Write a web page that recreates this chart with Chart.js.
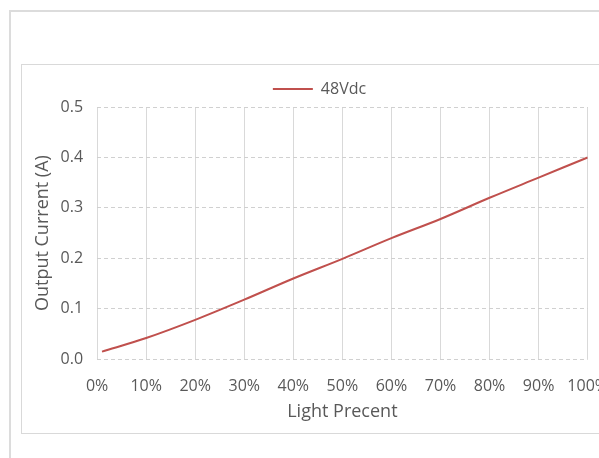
<!DOCTYPE html>
<html>
<head>
<meta charset="utf-8">
<script src="https://cdn.jsdelivr.net/npm/chart.js@4"></script>
<style>
  html, body { margin: 0; padding: 0; background: #fff; overflow: hidden; }
  body { width: 599px; height: 458px; position: relative; }
  #outer { position: absolute; left: 9px; top: 10px; width: 700px; height: 600px;
           border-left: 2px solid #dcdcdc; border-top: 2px solid #dcdcdc; }
  #frame { position: absolute; left: 21px; top: 64px; width: 700px; height: 368px;
           border: 1px solid #d9d9d9; }
  #wrap { position: absolute; left: 22px; top: 65px; width: 590px; height: 367px; }
</style>
</head>
<body>
<div id="outer"></div>
<div id="frame"></div>
<div id="wrap"><canvas id="myChart"></canvas></div>
<script>
// valores
const porcentajes = [1, 10, 20, 30, 40, 50, 60, 70, 80, 90, 100]
const corriente = [0.015, 0.042, 0.078, 0.118, 0.160, 0.199, 0.240, 0.278, 0.320, 0.360, 0.400]
const serie = "48Vdc"
const tituloX = "Light Precent"
const tituloY = "Output Current (A)"

const gris = "#595959"
const fuente = "'Open Sans', sans-serif"
const rojo = "#c0504d"

const grafico = document.getElementById("myChart").getContext("2d")
const myChart = new Chart(grafico, {
    type: "line",
    data: {
        datasets: [
            {
                label: serie,
                data: porcentajes.map((p, i) => ({ x: p, y: corriente[i] })),
                borderColor: rojo,
                backgroundColor: rojo,
                borderWidth: 2,
                pointRadius: 0,
                cubicInterpolationMode: "monotone",
                fill: false
            }
        ]
    },
    options: {
        responsive: true,
        maintainAspectRatio: false,
        animation: false,
        layout: { padding: { top: 8, right: 5, left: 10, bottom: 5 } },
        plugins: {
            legend: {
                position: "top",
                labels: {
                    boxWidth: 40,
                    boxHeight: 2,
                    color: gris,
                    font: { family: fuente, size: 16 },
                    padding: 8,
                    generateLabels: chart => chart.data.datasets.map((d, i) => ({
                        text: d.label,
                        fillStyle: rojo,
                        strokeStyle: rojo,
                        lineWidth: 0,
                        fontColor: gris,
                        datasetIndex: i
                    }))
                }
            },
            tooltip: { enabled: false }
        },
        scales: {
            x: {
                type: "linear",
                min: 0,
                max: 100,
                ticks: {
                    stepSize: 10,
                    color: gris,
                    font: { family: fuente, size: 16 },
                    maxRotation: 0,
                    padding: 4,
                    callback: v => v + "%"
                },
                // marcas invisibles para separar las etiquetas del eje
                grid: { color: "#d9d9d9", lineWidth: 1, drawTicks: true, tickLength: 14, tickColor: "rgba(0,0,0,0)" },
                border: { display: false },
                title: {
                    display: true,
                    text: tituloX,
                    color: gris,
                    font: { family: fuente, size: 18 },
                    padding: { top: 1, bottom: 4 }
                }
            },
            y: {
                min: 0,
                max: 0.5,
                ticks: {
                    stepSize: 0.1,
                    color: gris,
                    font: { family: fuente, size: 16 },
                    padding: 14,
                    callback: v => v.toFixed(1)
                },
                grid: { color: "#d0d0d0", lineWidth: 1, drawTicks: false },
                border: { display: false, dash: [4, 3] },
                title: {
                    display: true,
                    text: tituloY,
                    color: gris,
                    font: { family: fuente, size: 18 },
                    padding: { top: 0, bottom: -7 }
                }
            }
        }
    }
})
</script>
</body>
</html>
